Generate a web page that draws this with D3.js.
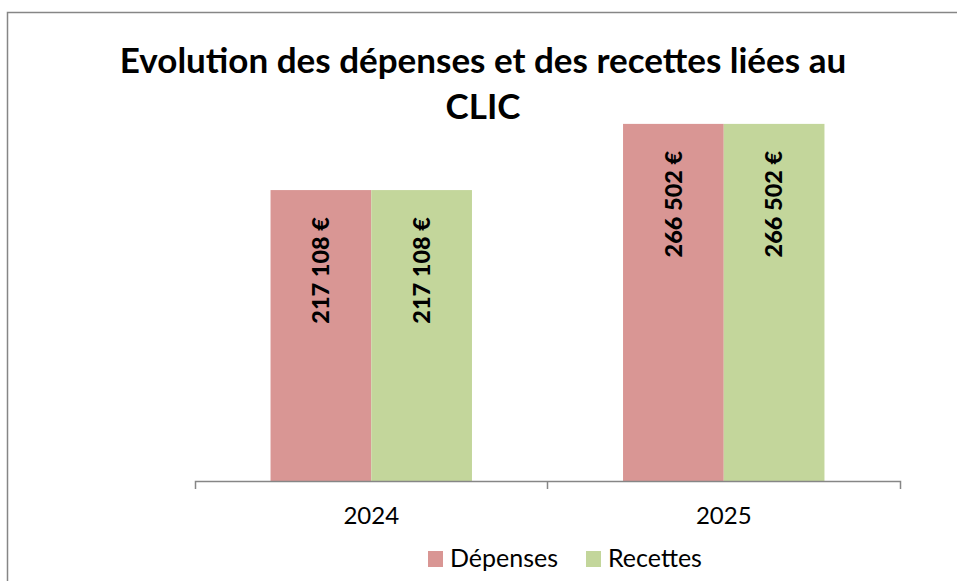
<!DOCTYPE html>
<html>
<head>
<meta charset="utf-8">
<script src="https://cdn.jsdelivr.net/npm/d3@7"></script>
<style>
  html, body { margin: 0; padding: 0; background: #fff; }
  svg { display: block; font-family: Lato, "Open Sans", sans-serif; }
</style>
</head>
<body>
<div id="app"></div>
<script>
const categories = ['2024', '2025'];
const seriesNames = ['Dépenses', 'Recettes'];
const depenses = [217108, 266502];
const recettes = [217108, 266502];
const titleLines = ['Evolution des dépenses et des recettes liées au', 'CLIC'];

const colors = { 'Dépenses': '#d99694', 'Recettes': '#c3d69b' };
const width = 957, height = 581;
const margin = { top: 79, right: 57, bottom: 100, left: 195 };

const rows = categories.map((c, i) => ({ cat: c, values: [depenses[i], recettes[i]] }));
const fmt = v => d3.format(',')(v).replace(/,/g, ' ') + ' €';

const svg = d3.select('#app').append('svg')
  .attr('width', width).attr('height', height);

// chart frame
svg.append('rect')
  .attr('x', 7.5).attr('y', 12.5)
  .attr('width', width + 10).attr('height', height + 10)
  .attr('fill', 'none').attr('stroke', '#868686').attr('stroke-width', 1.5);

const x = d3.scaleBand().domain(categories)
  .range([margin.left, width - margin.right]).paddingInner(0).paddingOuter(0);
const xs = d3.scaleBand().domain(seriesNames)
  .range([0, x.bandwidth()]).paddingInner(0).paddingOuter(0.75);
const y = d3.scaleLinear().domain([0, 300000]).range([height - margin.bottom, margin.top]);

// title
svg.append('text')
  .attr('text-anchor', 'middle')
  .attr('font-weight', 'bold').attr('font-size', 35)
  .selectAll('tspan').data(titleLines).join('tspan')
  .attr('x', 483)
  .attr('y', (d, i) => 73 + i * 46)
  .text(d => d);

// bars
const g = svg.append('g').selectAll('g').data(rows).join('g')
  .attr('transform', d => `translate(${x(d.cat)},0)`);

g.selectAll('rect').data(d => d.values.map((v, j) => ({ name: seriesNames[j], v })))
  .join('rect')
  .attr('x', d => xs(d.name))
  .attr('y', d => y(d.v))
  .attr('width', xs.bandwidth())
  .attr('height', d => y(0) - y(d.v))
  .attr('fill', d => colors[d.name]);

g.selectAll('text').data(d => d.values.map((v, j) => ({ name: seriesNames[j], v })))
  .join('text')
  .attr('transform', d => `translate(${xs(d.name) + xs.bandwidth() / 2},${y(d.v) + 27}) rotate(-90)`)
  .attr('text-anchor', 'end')
  .attr('dy', '0.35em')
  .attr('font-weight', 900)
  .attr('font-size', 23.5)
  .attr('fill', '#000')
  .text(d => fmt(d.v));

// category axis
const axis = svg.append('g')
  .attr('transform', `translate(0,${y(0)})`)
  .call(d3.axisBottom(x).tickSizeInner(0).tickSizeOuter(8).tickPadding(26));
axis.select('.domain').attr('stroke', '#868686').attr('stroke-width', 1.5);
axis.selectAll('.tick text').attr('font-size', 24).attr('fill', '#000')
  .attr('font-family', 'Lato, "Open Sans", sans-serif');
axis.selectAll('.tick line').remove();
axis.selectAll('.divider').data(categories.slice(1)).join('line')
  .attr('class', 'divider')
  .attr('x1', d => x(d)).attr('x2', d => x(d))
  .attr('y1', 0).attr('y2', 8)
  .attr('stroke', '#868686').attr('stroke-width', 1.5);

// legend
const legend = svg.append('g').attr('font-size', 25);
const legendX = [428, 586];
const li = legend.selectAll('g').data(seriesNames).join('g')
  .attr('transform', (d, i) => `translate(${legendX[i]},551)`);
li.append('rect').attr('width', 15).attr('height', 16).attr('fill', d => colors[d]);
li.append('text').attr('x', 22).attr('y', 16).text(d => d);
</script>
</body>
</html>
